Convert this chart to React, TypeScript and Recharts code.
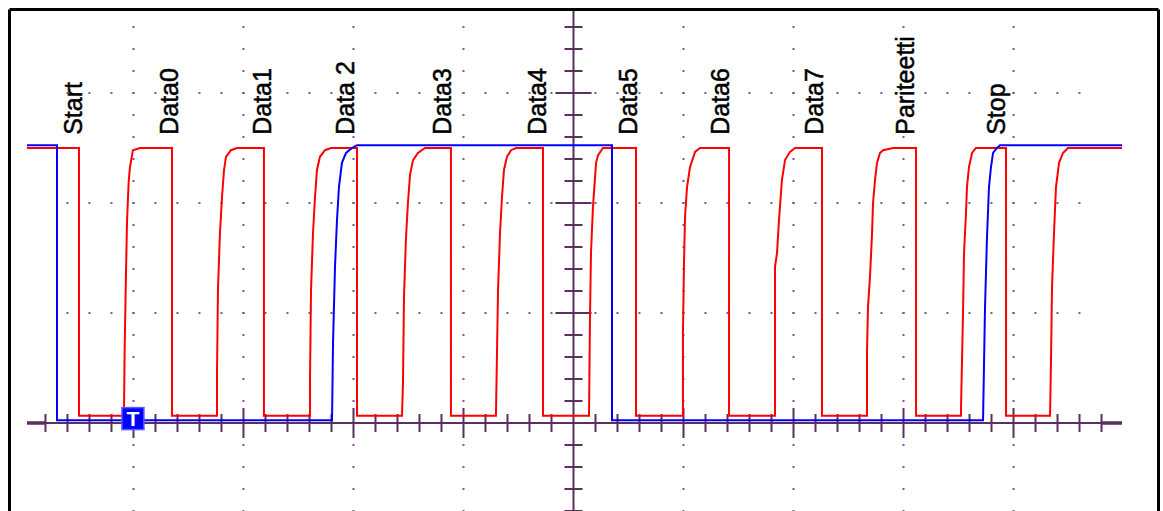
import {
  ComposedChart,
  Line,
  Scatter,
  XAxis,
  YAxis,
  ReferenceLine,
  ReferenceDot,
} from "recharts"

// time in µs (100 µs/div), level in volts (2 V/div)
const redTrace: [number, number][] = [
  [-496.8, 5.0], [-449.5, 5.0], [-449.5, 0.13],
  [-408.6, 0.13], [-408.6, 0.27], [-408.0, 1.36], [-406.8, 2.73], [-405.9, 3.64], [-404.4, 4.38], [-403.2, 4.65], [-400.5, 4.96], [-394.1, 5.0],
  [-365.0, 5.0], [-365.0, 0.13],
  [-324.1, 0.13], [-324.1, 0.84], [-323.2, 2.42], [-321.4, 3.45], [-319.5, 4.11], [-317.7, 4.6], [-315.9, 4.84], [-311.4, 4.96], [-305.9, 5.0],
  [-281.4, 5.0], [-281.4, 0.13],
  [-239.5, 0.13], [-239.5, 0.84], [-238.6, 2.42], [-236.8, 3.45], [-235.0, 4.11], [-233.2, 4.6], [-230.5, 4.84], [-225.9, 4.96], [-220.5, 5.0],
  [-196.8, 5.0], [-196.8, 0.13],
  [-155.9, 0.13], [-155.0, 0.73], [-154.1, 2.29], [-152.3, 3.36], [-150.5, 4.0], [-148.6, 4.51], [-145.9, 4.78], [-141.4, 4.91], [-135.0, 5.0],
  [-111.4, 5.0], [-111.4, 0.13],
  [-70.5, 0.13], [-69.5, 1.33], [-68.6, 2.42], [-66.8, 3.45], [-65.0, 4.11], [-63.2, 4.6], [-60.5, 4.84], [-56.8, 4.96], [-52.3, 5.0],
  [-27.7, 5.0], [-27.7, 0.13],
  [14.1, 0.13], [15.0, 1.93], [15.9, 3.09], [17.7, 3.93], [20.5, 4.73], [22.3, 4.87], [26.8, 5.0],
  [56.8, 5.0], [56.8, 0.13],
  [99.5, 0.13], [99.5, 1.64], [100.5, 2.96], [101.4, 3.75], [103.2, 4.29], [105.9, 4.65], [110.5, 4.93], [115.0, 5.0],
  [141.4, 5.0], [141.4, 0.13],
  [183.2, 0.13], [183.2, 2.84], [185.0, 3.09], [186.8, 3.69], [189.5, 4.42], [192.3, 4.78], [196.8, 4.93], [201.4, 5.0],
  [225.9, 5.0], [225.9, 0.13],
  [266.8, 0.13], [266.8, 1.27], [267.7, 2.11], [269.5, 2.65], [271.4, 3.45], [272.3, 4.0], [274.1, 4.42], [275.9, 4.73], [278.6, 4.91], [281.4, 4.96], [290.5, 5.0],
  [311.4, 5.0], [311.4, 0.13],
  [352.3, 0.13], [352.3, 0.29], [353.2, 1.15], [354.1, 2.0], [355.0, 3.09], [356.8, 3.82], [357.7, 4.29], [359.5, 4.65], [362.3, 4.91], [365.9, 5.0],
  [393.2, 5.0], [393.2, 0.13],
  [433.2, 0.13], [434.1, 1.15], [435.0, 2.47], [436.8, 3.45], [438.6, 4.29], [441.4, 4.73], [445.0, 4.91], [449.5, 5.0],
  [498.6, 5.0],
]

const blueTrace: [number, number][] = [
  [-496.8, 5.05], [-469.5, 5.05], [-469.5, 0.05],
  [-219.5, 0.05], [-218.6, 1.45], [-216.8, 2.84], [-215.0, 3.69], [-213.2, 4.29], [-210.5, 4.73], [-206.8, 4.91], [-201.4, 5.0], [-196.8, 5.05],
  [35.0, 5.05], [35.0, 0.05],
  [372.3, 0.05], [374.1, 2.11], [375.9, 3.38], [377.7, 4.29], [379.5, 4.65], [381.4, 4.91], [385.0, 5.0], [387.7, 5.05],
  [498.6, 5.05],
]

const labelNames = ["Start", "Data0", "Data1", "Data 2", "Data3", "Data4", "Data5", "Data6", "Data7", "Pariteetti", "Stop"]
const labelTimes = [-446.8, -359.5, -275.0, -199.5, -111.4, -25.0, 57.7, 141.4, 226.8, 309.5, 392.3]
const labelLevel = 5.24

const gridTimes = [-400, -300, -200, -100, 100, 200, 300, 400]
const gridLevels = [2, 4, 6]
const triggerTime = -400.5
const triggerLevel = 0.08

const T_MIN = -512.7
const T_MAX = 531.8
const V_MIN = -1.6
const V_MAX = 7.518

const AXIS = "#5b2f5f"
const DOT = "#7a5a8a"

function steps(from: number, to: number, step: number) {
  const out: number[] = []
  for (let v = from; v <= to + 1e-9; v += step) out.push(Math.round(v * 100) / 100)
  return out
}

const timeTicks = steps(-480, 480, 20).filter((t) => t !== 0)
const levelTicks = steps(-1.6, 7.2, 0.4).filter((v) => Math.abs(v) > 1e-6)

const toPoints = (arr: [number, number][]) => arr.map(([t, v]) => ({ t, v }))
const redData = toPoints(redTrace)
const blueData = toPoints(blueTrace)
const labelData = labelNames.map((name, i) => ({ t: labelTimes[i], v: labelLevel, name }))

function LabelShape(props: any) {
  const { cx, cy, payload } = props
  return (
    <text
      x={cx}
      y={cy}
      transform={`rotate(-90 ${cx} ${cy})`}
      fontSize={25}
      fontFamily="'Liberation Sans', Arial, sans-serif"
      fill="#000"
      stroke="#000"
      strokeWidth={0.5}
    >
      {payload.name}
    </text>
  )
}

function TriggerShape(props: any) {
  const { cx, cy } = props
  return (
    <g>
      <rect x={cx - 11} y={cy - 11} width={22} height={22} fill="#0000ff" stroke="#5a5aff" strokeWidth={1.5} />
      <text
        x={cx}
        y={cy + 7.5}
        textAnchor="middle"
        fontSize={21}
        fontWeight="bold"
        fontFamily="'Liberation Sans', Arial, sans-serif"
        fill="#fff"
      >
        T
      </text>
    </g>
  )
}

const isMajorTime = (t: number) => Math.abs(t % 100) < 1e-6
const isMajorLevel = (v: number) => Math.abs(v / 2 - Math.round(v / 2)) < 1e-6

export default function App() {
  return (
    <div style={{ position: "absolute", left: 0, top: 0, width: 1163, height: 511, background: "#fff" }}>
      <ComposedChart width={1163} height={511} margin={{ top: 9.5, right: 4.5, bottom: 0, left: 9.5 }}>
        <XAxis type="number" dataKey="t" domain={[T_MIN, T_MAX]} allowDataOverflow hide />
        <YAxis type="number" dataKey="v" domain={[V_MIN, V_MAX]} allowDataOverflow hide />

        {/* dotted graticule */}
        {gridTimes.map((t) => (
          <ReferenceLine
            key={`gv${t}`}
            segment={[{ x: t, y: V_MIN - 1 / 55 }, { x: t, y: V_MAX }]}
            stroke={DOT}
            strokeWidth={2}
            strokeDasharray="2 20"
            ifOverflow="visible"
          />
        ))}
        {gridLevels.map((v) => (
          <ReferenceLine
            key={`gh${v}`}
            segment={[{ x: -460 - 1 / 1.1, y: v }, { x: 461, y: v }]}
            stroke={DOT}
            strokeWidth={2}
            strokeDasharray="2 20"
            ifOverflow="visible"
          />
        ))}

        {/* centre axes with ticks */}
        <ReferenceLine segment={[{ x: -496.8, y: 0 }, { x: 498.6, y: 0 }]} stroke={AXIS} strokeWidth={2} ifOverflow="visible" />
        <ReferenceLine segment={[{ x: -496.8, y: 0 }, { x: -480, y: 0 }]} stroke={AXIS} strokeWidth={3.5} ifOverflow="visible" />
        <ReferenceLine segment={[{ x: 480, y: 0 }, { x: 498.6, y: 0 }]} stroke={AXIS} strokeWidth={3.5} ifOverflow="visible" />
        <ReferenceLine segment={[{ x: 0, y: V_MIN }, { x: 0, y: V_MAX }]} stroke={AXIS} strokeWidth={2} ifOverflow="visible" />
        {timeTicks.map((t) => {
          const h = isMajorTime(t) ? 0.273 : 0.164
          return (
            <ReferenceLine
              key={`tt${t}`}
              segment={[{ x: t, y: -h }, { x: t, y: h }]}
              stroke={AXIS}
              strokeWidth={2}
              ifOverflow="visible"
            />
          )
        })}
        {levelTicks.map((v) => {
          const w = isMajorLevel(v) ? 16.4 : 8.2
          return (
            <ReferenceLine
              key={`vt${v}`}
              segment={[{ x: -w, y: v }, { x: w, y: v }]}
              stroke={AXIS}
              strokeWidth={2}
              ifOverflow="visible"
            />
          )
        })}

        {/* window frame */}
        <ReferenceLine x={T_MIN} stroke="#000" strokeWidth={3} ifOverflow="visible" />
        <ReferenceLine x={T_MAX} stroke="#000" strokeWidth={3} ifOverflow="visible" />
        <ReferenceLine y={V_MAX} stroke="#000" strokeWidth={3} ifOverflow="visible" />

        <Line
          data={redData}
          dataKey="v"
          type="linear"
          stroke="#ff0000"
          strokeWidth={2}
          dot={false}
          isAnimationActive={false}
        />
        <Line
          data={blueData}
          dataKey="v"
          type="linear"
          stroke="#0000ff"
          strokeWidth={2}
          dot={false}
          isAnimationActive={false}
        />
        <Scatter data={labelData} dataKey="v" shape={LabelShape} isAnimationActive={false} />
        <ReferenceDot x={triggerTime} y={triggerLevel} shape={TriggerShape} ifOverflow="visible" />
      </ComposedChart>
    </div>
  )
}
